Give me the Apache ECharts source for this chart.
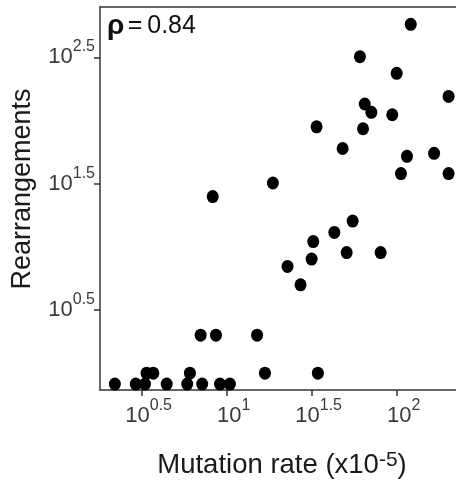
<!DOCTYPE html>
<html>
<head>
<meta charset="utf-8">
<script src="https://cdn.jsdelivr.net/npm/echarts@6/dist/echarts.min.js"></script>
<style>
html,body{margin:0;padding:0;background:#fff;}
#chart{width:456px;height:482px;}
</style>
</head>
<body>
<div id="chart"></div>
<script>
// Mutation rate (x10^-5) and rearrangement counts
const mutationRate = [2.2, 2.92, 3.31, 4.44, 5.86, 7.18, 9.14, 10.45,
  3.38, 3.70, 6.08, 16.8, 34.4,
  7.03, 8.65, 15.1,
  22.8, 27.2, 31.6, 32.3, 43, 55.1, 50.8, 80.5,
  8.28, 18.7,
  121, 60.8, 100, 202, 64.9, 71, 94.2, 33.8, 63.4, 48.1, 115, 166, 106, 202];
const rearrangements = [0.82, 0.82, 0.82, 0.82, 0.82, 0.82, 0.82, 0.82,
  1, 1, 1, 1, 1,
  2, 2, 2,
  7, 5, 8, 11, 13, 16, 9, 9,
  25, 32,
  577, 320, 236, 155, 135, 116, 111, 89, 86, 60, 52, 55, 38, 38];
const xTickExponents = [0.5, 1, 1.5, 2];
const yTickExponents = [0.5, 1.5, 2.5];
const rhoText = '0.84';

const FONT = "'Liberation Sans', Arial, Helvetica, sans-serif";
const data = mutationRate.map((m, i) => [Math.log10(m), Math.log10(rearrangements[i])]);

function expLabel(v) {
  const s = String(Math.round(v * 10) / 10);
  return '{b|10}{s|' + s + '}';
}
const LABEL_COLOR = '#3a3a3a';
const labelRich = {
  b: {fontSize: 22, lineHeight: 22, fontFamily: FONT, color: LABEL_COLOR, verticalAlign: 'middle'},
  s: {fontSize: 16, lineHeight: 16, fontFamily: FONT, color: LABEL_COLOR, verticalAlign: 'middle', padding: [0, 0, 21, 0]}
};
const axisLineStyle = {color: '#333333', width: 1.5};

const chart = echarts.init(document.getElementById('chart'), null, {renderer: 'canvas'});
chart.setOption({
  animation: false,
  backgroundColor: '#ffffff',
  grid: {left: 100, top: 7, right: 0, bottom: 92},
  xAxis: [{
    type: 'value', min: 0.255, max: 2.349,
    axisLine: {show: true, onZero: false, lineStyle: axisLineStyle},
    axisTick: {show: true, customValues: xTickExponents, length: 6, lineStyle: axisLineStyle},
    axisLabel: {customValues: xTickExponents, formatter: expLabel, rich: labelRich, margin: 15, padding: [0, 0, 0, 14]},
    splitLine: {show: false}
  }, {
    type: 'value', position: 'top', min: 0.255, max: 2.349,
    axisLine: {show: true, onZero: false, lineStyle: axisLineStyle},
    axisTick: {show: false}, axisLabel: {show: false}, splitLine: {show: false}
  }],
  yAxis: {
    type: 'value', min: -0.133, max: 2.898,
    axisLine: {show: true, onZero: false, lineStyle: axisLineStyle},
    axisTick: {show: true, customValues: yTickExponents, length: 6, lineStyle: axisLineStyle},
    axisLabel: {customValues: yTickExponents, formatter: expLabel, rich: labelRich, margin: 5},
    splitLine: {show: false}
  },
  graphic: [
    {type: 'text', x: 107, y: 26, style: {
      text: '{r|ρ} {e|=\u2009' + rhoText + '}', verticalAlign: 'middle', align: 'left',
      rich: {r: {fontSize: 28, fontWeight: 'bold', fontFamily: FONT, fill: '#111'},
             e: {fontSize: 25, fontFamily: FONT, fill: '#111'}}
    }},
    {type: 'text', x: 23, y: 189, rotation: Math.PI / 2, style: {
      text: 'Rearrangements', fontSize: 27, fontFamily: FONT, fill: '#1a1a1a',
      align: 'center', verticalAlign: 'middle'
    }},
    {type: 'text', x: 282, y: 464, style: {
      text: '{a|Mutation rate (x10}{s|-5}{a|)}', align: 'center', verticalAlign: 'middle',
      rich: {a: {fontSize: 27.5, lineHeight: 30, fontFamily: FONT, fill: '#1a1a1a', verticalAlign: 'bottom'},
             s: {fontSize: 21, lineHeight: 22, fontFamily: FONT, fill: '#1a1a1a', verticalAlign: 'bottom', padding: [0, 0, 8, 0]}}
    }}
  ],
  series: [{
    type: 'scatter',
    data: data,
    symbol: 'circle',
    symbolSize: [12, 13],
    itemStyle: {color: '#000000', opacity: 1},
    silent: true
  }]
});
</script>
</body>
</html>
